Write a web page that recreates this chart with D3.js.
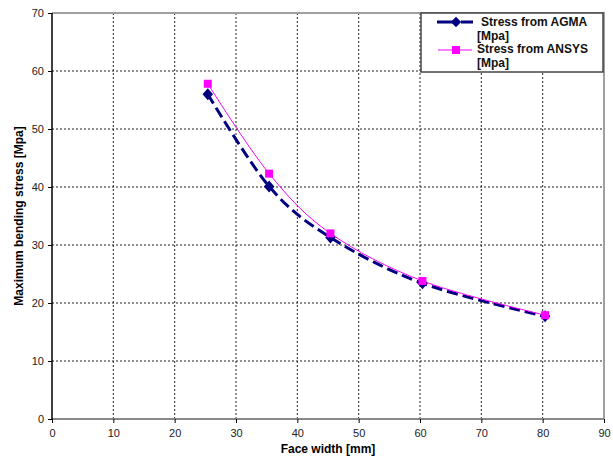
<!DOCTYPE html>
<html>
  <head>
    <meta charset="utf-8" />
    <title>Bending stress vs face width</title>
    <script src="https://d3js.org/d3.v7.min.js"></script>
    <style>
      body {
        margin: 0;
        background: #fff;
      }
      text {
        font-family: "Liberation Sans", Arial, sans-serif;
      }
    </style>
  </head>
  <body>
    <svg id="viz"></svg>

    <script>

      // face width [mm]
      var faceWidth = [25.4, 35.4, 45.4, 60.4, 80.4];
      // stresses [Mpa]
      var agmaStress = [56.0, 40.1, 31.3, 23.4, 17.7];
      var ansysStress = [57.8, 42.3, 32.0, 23.8, 17.9];

      var xTicks = [0, 10, 20, 30, 40, 50, 60, 70, 80, 90];
      var yTicks = [0, 10, 20, 30, 40, 50, 60, 70];

      var seriesNames = ["Stress from AGMA", "Stress from ANSYS"];

      var width = 613;
      var height = 463;
      var margin = {top: 13, right: 9, bottom: 44, left: 52};

      var svg = d3.select("#viz")
        .attr("width", width)
        .attr("height", height);

      var x = d3.scaleLinear()
        .domain([0, 90])
        .range([margin.left, width - margin.right]);

      var y = d3.scaleLinear()
        .domain([0, 70])
        .range([height - margin.bottom, margin.top]);

      // grid
      var grid = svg.append("g");

      grid.selectAll("line.gy")
        .data(yTicks.slice(1, -1))
        .enter().append("line")
        .attr("class", "gy")
        .attr("x1", x(0))
        .attr("x2", x(90))
        .attr("y1", function(d) { return y(d); })
        .attr("y2", function(d) { return y(d); })
        .attr("stroke", "#222")
        .attr("stroke-width", 1)
        .attr("stroke-dasharray", "2,2");

      grid.selectAll("line.gx")
        .data(xTicks.slice(1, -1))
        .enter().append("line")
        .attr("class", "gx")
        .attr("y1", y(0))
        .attr("y2", y(70))
        .attr("x1", function(d) { return x(d); })
        .attr("x2", function(d) { return x(d); })
        .attr("stroke", "#222")
        .attr("stroke-width", 1)
        .attr("stroke-dasharray", "2,2");

      // top and right frame (gray)
      svg.append("path")
        .attr("d", "M" + x(0) + "," + y(70) + "H" + x(90) + "V" + y(0))
        .attr("fill", "none")
        .attr("stroke", "#a0a0a0")
        .attr("stroke-width", 2);

      // axes
      var xAxis = d3.axisBottom(x)
        .tickValues(xTicks)
        .tickSize(4)
        .tickPadding(6);

      var yAxis = d3.axisLeft(y)
        .tickValues(yTicks)
        .tickSize(4)
        .tickPadding(4);

      var gx = svg.append("g")
        .attr("transform", "translate(0," + y(0) + ")")
        .call(xAxis);

      gx.select(".domain")
        .attr("d", "M" + x(0) + ",0H" + x(90))
        .attr("stroke", "#888")
        .attr("stroke-width", 2);

      var gy = svg.append("g")
        .attr("transform", "translate(" + x(0) + ",0)")
        .call(yAxis);

      gy.select(".domain")
        .attr("d", "M0," + y(0) + "V" + y(70))
        .attr("stroke", "#000")
        .attr("stroke-width", 1.5);

      svg.selectAll(".tick text")
        .attr("font-size", "11px")
        .attr("fill", "#222")
        .attr("font-family", "'Liberation Sans', Arial, sans-serif");

      svg.selectAll(".tick line")
        .attr("stroke", "#000");

      // axis titles
      svg.append("text")
        .attr("x", (x(0) + x(90)) / 2)
        .attr("y", 453)
        .attr("text-anchor", "middle")
        .attr("font-size", "12px")
        .attr("font-weight", "bold")
        .text("Face width [mm]");

      svg.append("text")
        .attr("transform", "translate(23," + (y(0) + y(70)) / 2 + ") rotate(-90)")
        .attr("text-anchor", "middle")
        .attr("font-size", "12px")
        .attr("font-weight", "bold")
        .text("Maximum bending stress [Mpa]");

      // series
      var line = d3.line()
        .x(function(d) { return x(d[0]); })
        .y(function(d) { return y(d[1]); })
        .curve(d3.curveCardinal.tension(0));

      var agma = faceWidth.map(function(f, i) { return [f, agmaStress[i]]; });
      var ansys = faceWidth.map(function(f, i) { return [f, ansysStress[i]]; });

      svg.append("path")
        .datum(agma)
        .attr("d", line)
        .attr("fill", "none")
        .attr("stroke", "#000080")
        .attr("stroke-width", 3)
        .attr("stroke-dasharray", "11,5");

      svg.append("path")
        .datum(ansys)
        .attr("d", line)
        .attr("fill", "none")
        .attr("stroke", "#ff00ff")
        .attr("stroke-width", 1);

      var diamond = d3.symbol().type(d3.symbolDiamond2).size(70);

      svg.selectAll("path.agma")
        .data(agma)
        .enter().append("path")
        .attr("class", "agma")
        .attr("d", diamond)
        .attr("fill", "#000080")
        .attr("transform", function(d) {
          return "translate(" + x(d[0]) + "," + y(d[1]) + ") scale(1,1.15)";
        });

      svg.selectAll("rect.ansys")
        .data(ansys)
        .enter().append("rect")
        .attr("class", "ansys")
        .attr("width", 8)
        .attr("height", 8)
        .attr("x", function(d) { return x(d[0]) - 4; })
        .attr("y", function(d) { return y(d[1]) - 4; })
        .attr("fill", "#ff00ff");

      // legend
      var legend = svg.append("g")
        .attr("transform", "translate(421,13)");

      legend.append("rect")
        .attr("width", 182)
        .attr("height", 59)
        .attr("fill", "#fff")
        .attr("stroke", "#444")
        .attr("stroke-width", 1.5);

      legend.append("line")
        .attr("x1", 16).attr("x2", 52)
        .attr("y1", 9).attr("y2", 9)
        .attr("stroke", "#000080")
        .attr("stroke-width", 3)
        .attr("stroke-dasharray", "20,4,12");

      legend.append("path")
        .attr("d", diamond)
        .attr("fill", "#000080")
        .attr("transform", "translate(35,9)");

      legend.append("line")
        .attr("x1", 17).attr("x2", 51)
        .attr("y1", 37).attr("y2", 37)
        .attr("stroke", "#ff00ff")
        .attr("stroke-width", 1);

      legend.append("rect")
        .attr("x", 31).attr("y", 33)
        .attr("width", 8).attr("height", 8)
        .attr("fill", "#ff00ff");

      var legendLines = [
        {text: seriesNames[0], x: 60, y: 13},
        {text: "[Mpa]", x: 56, y: 27},
        {text: seriesNames[1], x: 56, y: 40},
        {text: "[Mpa]", x: 56, y: 54}
      ];

      legend.selectAll("text")
        .data(legendLines)
        .enter().append("text")
        .attr("x", function(d) { return d.x; })
        .attr("y", function(d) { return d.y; })
        .attr("font-size", "12px")
        .attr("font-weight", "bold")
        .attr("fill", "#111")
        .text(function(d) { return d.text; });

    </script>
  </body>
</html>
